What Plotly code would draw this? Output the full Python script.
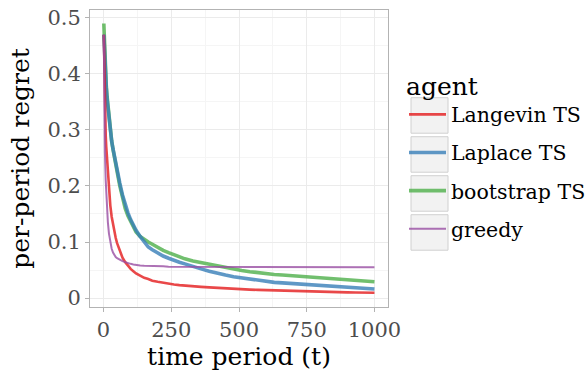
import plotly.graph_objects as go

t = [1, 3, 5, 8, 10, 13, 16, 20, 25, 30, 35, 40, 45, 50, 60, 70, 80, 90, 100, 110,
     120, 135, 150, 165, 180, 200, 220, 240, 260, 280, 300, 330, 360, 390, 420, 450,
     480, 510, 540, 570, 600, 630, 660, 690, 720, 750, 780, 810, 840, 870, 900, 930,
     960, 1000]

langevin = [0.47, 0.40, 0.34, 0.29, 0.27, 0.245, 0.22, 0.19, 0.165, 0.145, 0.13, 0.118,
            0.107, 0.098, 0.085, 0.072, 0.064, 0.057, 0.052, 0.048, 0.044, 0.040, 0.036,
            0.034, 0.031, 0.029, 0.027, 0.025, 0.024, 0.023, 0.022, 0.021, 0.020, 0.019,
            0.018, 0.017, 0.016, 0.0155, 0.015, 0.0145, 0.014, 0.0135, 0.013, 0.0128,
            0.0125, 0.012, 0.0115, 0.011, 0.0107, 0.0104, 0.0101, 0.0099, 0.0097, 0.0095]

laplace = [0.47, 0.44, 0.42, 0.395, 0.375, 0.355, 0.34, 0.318, 0.295, 0.28, 0.266, 0.252,
           0.24, 0.23, 0.205, 0.184, 0.166, 0.152, 0.14, 0.13, 0.121, 0.110, 0.100, 0.091,
           0.086, 0.080, 0.075, 0.071, 0.067, 0.064, 0.061, 0.056, 0.052, 0.048, 0.044,
           0.041, 0.038, 0.036, 0.034, 0.031, 0.029, 0.028, 0.027, 0.026, 0.025, 0.023,
           0.022, 0.021, 0.020, 0.019, 0.018, 0.018, 0.017, 0.016]

bootstrap = [0.49, 0.46, 0.43, 0.40, 0.38, 0.36, 0.345, 0.32, 0.295, 0.28, 0.265, 0.25,
             0.237, 0.226, 0.20, 0.178, 0.16, 0.147, 0.136, 0.126, 0.118, 0.110, 0.104,
             0.100, 0.096, 0.090, 0.085, 0.081, 0.077, 0.073, 0.070, 0.066, 0.063, 0.060,
             0.057, 0.054, 0.051, 0.049, 0.047, 0.045, 0.043, 0.042, 0.041, 0.040, 0.039,
             0.038, 0.037, 0.036, 0.035, 0.033, 0.032, 0.031, 0.030, 0.029]

greedy = [0.47, 0.33, 0.26, 0.21, 0.185, 0.155, 0.135, 0.115, 0.098, 0.088, 0.081, 0.076,
          0.073, 0.071, 0.068, 0.066, 0.064, 0.062, 0.061, 0.060, 0.059, 0.058, 0.0575,
          0.057, 0.057, 0.0565, 0.0565, 0.056, 0.056, 0.056, 0.056, 0.0558, 0.0558, 0.0556,
          0.0556, 0.0555, 0.0555, 0.0555, 0.0554, 0.0554, 0.0553, 0.0553, 0.0552, 0.0552,
          0.0552, 0.0551, 0.0551, 0.0551, 0.055, 0.055, 0.055, 0.055, 0.055, 0.055]

agents = ["Langevin TS", "Laplace TS", "bootstrap TS", "greedy"]
colors = ["rgba(228,26,28,0.8)", "rgba(55,126,184,0.8)", "rgba(77,175,74,0.8)",
          "rgba(152,78,163,0.8)"]
widths = [2.6, 3.6, 3.6, 2]

x_ticks = [0, 250, 500, 750, 1000]
y_ticks = [0, 0.1, 0.2, 0.3, 0.4, 0.5]
y_ticktext = ["0", "0.1", "0.2", "0.3", "0.4", "0.5"]

series = [langevin, laplace, bootstrap, greedy]
fig = go.Figure()
order = [2, 1, 0, 3]
for i in order:
    fig.add_trace(go.Scatter(x=t, y=series[i], mode="lines", name=agents[i],
                             line=dict(color=colors[i], width=widths[i]),
                             legendgroup=agents[i], legendrank=i + 1))

FONT = "DejaVu Serif"
W, H = 585, 371
PL, PR, PT, PB = 90, 388, 10, 307  # panel edges in window pixels
L, R, T, B = PL, W - PR, PT, H - PB
pw, ph = PR - PL, PB - PT

def px_x(p):
    return (p - PL) / pw

def px_y(p):
    return (PB - p) / ph

shapes = []
for k in range(4):
    top = 97.7 + 39 * k
    shapes.append(dict(type="rect", xref="paper", yref="paper",
                       x0=px_x(411), x1=px_x(448), y0=px_y(top + 35.5), y1=px_y(top),
                       fillcolor="#F2F2F2", line=dict(color="#D0D0D0", width=1),
                       layer="above"))

fig.update_layout(
    width=W, height=H,
    margin=dict(l=L, r=R, t=T, b=B, autoexpand=False),
    paper_bgcolor="white", plot_bgcolor="white",
    font=dict(family=FONT, color="#4D4D4D"),
    shapes=shapes,
    showlegend=True,
    legend=dict(
        title=dict(text="agent", font=dict(size=25, color="black", family=FONT)),
        font=dict(size=20.5, color="black", family=FONT),
        x=px_x(404), y=px_y(62), xanchor="left", yanchor="top",
        bgcolor="rgba(0,0,0,0)", itemwidth=37, tracegroupgap=8.5,
        traceorder="grouped",
    ),
    xaxis=dict(
        range=[-50, 1050], tickvals=x_ticks, ticktext=[str(v) for v in x_ticks],
        automargin=False, ticklabeloverflow="allow",
        showgrid=True, gridcolor="#EBEBEB", gridwidth=1,
        minor=dict(tickvals=[125, 375, 625, 875], showgrid=True, gridcolor="#F5F5F5",
                   gridwidth=1, ticks=""),
        zeroline=False, showline=True, mirror=True, linecolor="#B3B3B3", linewidth=1,
        ticks="outside", ticklen=4, tickcolor="#B3B3B3",
        tickfont=dict(size=21, color="#4D4D4D", family=FONT),
        title=dict(text="time period (t)", font=dict(size=25, color="black", family=FONT),
                   standoff=6),
    ),
    yaxis=dict(
        range=[-0.016, 0.514], tickvals=y_ticks, ticktext=y_ticktext,
        automargin=False, ticklabeloverflow="allow",
        showgrid=True, gridcolor="#EBEBEB", gridwidth=1,
        minor=dict(tickvals=[0.05, 0.15, 0.25, 0.35, 0.45], showgrid=True,
                   gridcolor="#F5F5F5", gridwidth=1, ticks=""),
        zeroline=False, showline=True, mirror=True, linecolor="#B3B3B3", linewidth=1,
        ticks="outside", ticklen=4, tickcolor="#B3B3B3",
        tickfont=dict(size=21, color="#4D4D4D", family=FONT),
        title=dict(text="per-period regret", font=dict(size=25, color="black", family=FONT),
                   standoff=10),
    ),
)

fig.write_html(
    "out.html",
    config={"displayModeBar": False},
    post_script="document.body.style.margin='0px';document.body.style.overflow='hidden';",
)
